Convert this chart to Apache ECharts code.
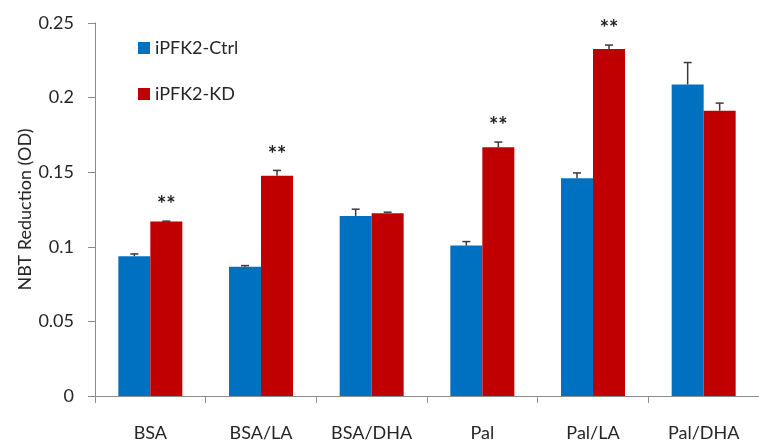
<!DOCTYPE html>
<html>
<head>
<meta charset="utf-8">
<script src="https://cdn.jsdelivr.net/npm/echarts@6/dist/echarts.min.js"></script>
<style>html,body{margin:0;padding:0;background:#fff}#c{width:759px;height:443px}</style>
</head>
<body>
<div id="c"></div>
<script>
var categories = ['BSA', 'BSA/LA', 'BSA/DHA', 'Pal', 'Pal/LA', 'Pal/DHA'];
var ctrlValues = [0.0937, 0.0866, 0.1207, 0.1008, 0.1459, 0.2088];
var ctrlErrors = [0.0015, 0.0008, 0.0045, 0.0027, 0.0036, 0.0147];
var kdValues = [0.1169, 0.1477, 0.1225, 0.1667, 0.2325, 0.1912];
var kdErrors = [0.0003, 0.0035, 0.0007, 0.0035, 0.0027, 0.0051];
var significance = ['**', '**', '', '**', '**', ''];
var yTicks = [0, 0.05, 0.1, 0.15, 0.2, 0.25];

var FONT = 'Lato';
var TXT = '#262626';
var AXIS = '#8c8c8c';
var BW = 32;

function errSeries(vals, errs, sign) {
  return {
    type: 'custom',
    silent: true,
    z: 5,
    data: vals.map(function (v, i) { return [i, v, errs[i]]; }),
    renderItem: function (params, api) {
      var i = api.value(0), v = api.value(1), e = api.value(2);
      var p0 = api.coord([i, v]);
      var p1 = api.coord([i, v + e]);
      var x = p0[0] + sign * BW / 2;
      var st = { stroke: '#3a3a3a', lineWidth: 1.5 };
      return {
        type: 'group',
        children: [
          { type: 'line', shape: { x1: x, y1: p0[1], x2: x, y2: p1[1] }, style: st },
          { type: 'line', shape: { x1: x - 4, y1: p1[1], x2: x + 4, y2: p1[1] }, style: st }
        ]
      };
    }
  };
}

var chart = echarts.init(document.getElementById('c'));
chart.setOption({
  animation: false,
  backgroundColor: '#fff',
  textStyle: { fontFamily: FONT },
  grid: { left: 95, top: 23, width: 674, bottom: 47, containLabel: false },
  legend: {
    orient: 'vertical',
    left: 138,
    top: 39,
    padding: 0,
    itemWidth: 12,
    itemHeight: 12,
    itemGap: 28,
    icon: 'rect',
    data: ['iPFK2-Ctrl', 'iPFK2-KD'],
    textStyle: { fontFamily: FONT, fontSize: 18, color: TXT }
  },
  xAxis: {
    type: 'category',
    data: categories,
    axisLine: { lineStyle: { color: AXIS, width: 1 } },
    axisTick: { show: true, length: 7, lineStyle: { color: AXIS } },
    axisLabel: { fontFamily: FONT, fontSize: 18, color: TXT, margin: 28 }
  },
  yAxis: {
    type: 'value',
    min: yTicks[0],
    max: yTicks[yTicks.length - 1],
    interval: 0.05,
    name: 'NBT Reduction (OD)',
    nameLocation: 'middle',
    nameGap: 61,
    nameMoveOverlap: false,
    nameTextStyle: { fontFamily: FONT, fontSize: 18, color: TXT },
    axisLine: { show: true, lineStyle: { color: AXIS, width: 1 } },
    axisTick: { show: true, length: 7, lineStyle: { color: AXIS } },
    splitLine: { show: false },
    axisLabel: { fontFamily: FONT, fontSize: 18, color: TXT, margin: 21 }
  },
  series: [
    {
      name: 'iPFK2-Ctrl', type: 'bar', data: ctrlValues, barWidth: BW, barGap: '0%',
      itemStyle: { color: '#0070C0' }
    },
    {
      name: 'iPFK2-KD', type: 'bar', data: kdValues, barWidth: BW, barGap: '0%',
      itemStyle: { color: '#C00000' }
    },
    errSeries(ctrlValues, ctrlErrors, -1),
    errSeries(kdValues, kdErrors, 1),
    {
      type: 'custom',
      silent: true,
      z: 6,
      data: kdValues.map(function (v, i) { return [i, v + kdErrors[i], significance[i]]; }),
      renderItem: function (params, api) {
        var i = api.value(0);
        var top = api.coord([i, api.value(1)]);
        return {
          type: 'text',
          style: {
            text: significance[i],
            x: top[0] + BW / 2,
            y: top[1] - 16,
            textAlign: 'center',
            textVerticalAlign: 'middle',
            fontFamily: FONT,
            fontSize: 22,
            fontWeight: 'bold',
            fill: '#222'
          }
        };
      }
    }
  ]
});
</script>
</body>
</html>
